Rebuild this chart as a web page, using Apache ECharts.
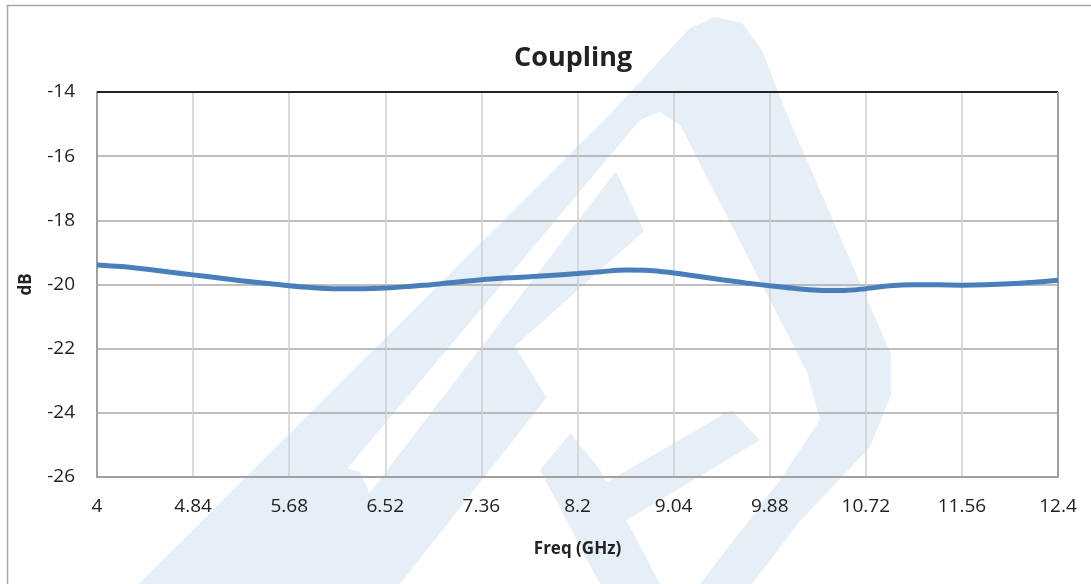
<!DOCTYPE html>
<html>
<head>
<meta charset="utf-8">
<script src="https://cdn.jsdelivr.net/npm/echarts@6/dist/echarts.min.js"></script>
<style>
html,body{margin:0;padding:0;background:#fff;}
#chart{width:1091px;height:584px;}
</style>
</head>
<body>
<div id="chart"></div>
<script>
// ---- data ----
const freqGHz = [4.00,4.21,4.42,4.63,4.84,5.05,5.26,5.47,5.68,5.89,6.10,6.31,6.52,6.73,6.94,7.15,7.36,7.57,7.78,7.99,8.20,8.41,8.62,8.83,9.04,9.25,9.46,9.67,9.88,10.09,10.30,10.51,10.72,10.93,11.14,11.35,11.56,11.77,11.98,12.19,12.40];
const couplingDb = [-19.39,-19.44,-19.52,-19.61,-19.70,-19.79,-19.88,-19.96,-20.04,-20.10,-20.13,-20.13,-20.11,-20.06,-20.00,-19.92,-19.85,-19.80,-19.76,-19.71,-19.66,-19.60,-19.55,-19.56,-19.64,-19.74,-19.85,-19.95,-20.04,-20.12,-20.18,-20.19,-20.13,-20.04,-20.01,-20.01,-20.02,-20.01,-19.98,-19.93,-19.87];
const xTicks = [4,4.84,5.68,6.52,7.36,8.2,9.04,9.88,10.72,11.56,12.4];
const yTicks = [-26,-24,-22,-20,-18,-16,-14];

const chart = echarts.init(document.getElementById('chart'));
const wm = '#e6eef7';
const font = '"Open Sans", "Liberation Sans", sans-serif';
const option = {
  backgroundColor: '#ffffff',
  animation: false,
  title: {
    text: 'Coupling', left: 509, top: 40,
    textStyle: {fontFamily: font, fontWeight: 'bold', fontSize: 27, color: '#222'}
  },
  graphic: [
    {type: 'rect', z: -20, shape: {x: 7.5, y: 5.5, width: 1100, height: 600}, style: {fill: '#fff', stroke: '#a6a6a6', lineWidth: 1.5}},
    // watermark approximation
    {type: 'polygon', z: -10, shape: {points: [[139,584],[612,112],[690,28],[715,17],[742,23],[762,50],[786,112],[891,354],[891,395],[870,447],[800,521],[752,584]]}, style: {fill: wm}},
    {type: 'polygon', z: -9, shape: {points: [[250,584],[640,120],[660,112],[680,125],[696,156],[807,372],[820,420],[780,480],[700,584]]}, style: {fill: '#fff'}},
    {type: 'polygon', z: -8, shape: {points: [[300,584],[616,171],[644,231],[515,346],[560,420],[600,470],[660,584]]}, style: {fill: wm}},
    {type: 'polygon', z: -7, shape: {points: [[400,584],[600,330],[640,350],[540,470],[600,584]]}, style: {fill: '#fff'}},
    {type: 'polygon', z: -8, shape: {points: [[431,584],[731,410],[760,440],[520,584]]}, style: {fill: wm}},
    {type: 'polygon', z: -8, shape: {points: [[230,584],[320,480],[341,466],[360,472],[410,584]]}, style: {fill: wm}}
  ],
  grid: {left: 97, right: 33, top: 92, bottom: 107, containLabel: false},
  xAxis: {
    type: 'value', min: 4, max: 12.4, interval: 0.84,
    name: 'Freq (GHz)', nameLocation: 'middle', nameGap: 64,
    nameTextStyle: {fontFamily: font, fontWeight: 'bold', fontSize: 17, color: '#222'},
    axisLine: {show: true, lineStyle: {color: '#a0a0a0', width: 2}},
    axisTick: {show: false, customValues: xTicks},
    axisLabel: {customValues: xTicks, margin: 20, fontFamily: font, fontSize: 19, color: '#222',
      formatter: v => String(Number(v.toFixed(2)))},
    splitLine: {show: true, lineStyle: {color: '#cfcfcf', width: 1.5}}
  },
  yAxis: {
    type: 'value', min: -26, max: -14, interval: 2,
    name: 'dB', nameLocation: 'middle', nameGap: 62, nameRotate: 90,
    nameTextStyle: {fontFamily: font, fontWeight: 'bold', fontSize: 17, color: '#222'},
    axisLine: {show: true, lineStyle: {color: '#a0a0a0', width: 2}},
    axisTick: {show: false},
    axisLabel: {margin: 22, fontFamily: font, fontSize: 19, color: '#222',
      formatter: v => String(v)},
    splitLine: {show: true, lineStyle: {color: '#a8a8a8', width: 1.5}}
  },
  series: [
    {type: 'line', data: freqGHz.map((f, i) => [f, couplingDb[i]]), showSymbol: false, smooth: 0.3,
     lineStyle: {color: '#4a7ebb', width: 5}, z: 5},
    {type: 'line', data: [], markLine: {silent: true, symbol: 'none', label: {show: false},
      data: [
        [{coord: [4, -14]}, {coord: [12.4, -14]}]
      ], lineStyle: {color: '#222', width: 2, type: 'solid'}}},
    {type: 'line', data: [], markLine: {silent: true, symbol: 'none', label: {show: false},
      data: [
        [{coord: [12.4, -26]}, {coord: [12.4, -14]}]
      ], lineStyle: {color: '#a0a0a0', width: 2, type: 'solid'}}}
  ]
};
chart.setOption(option);
</script>
</body>
</html>
